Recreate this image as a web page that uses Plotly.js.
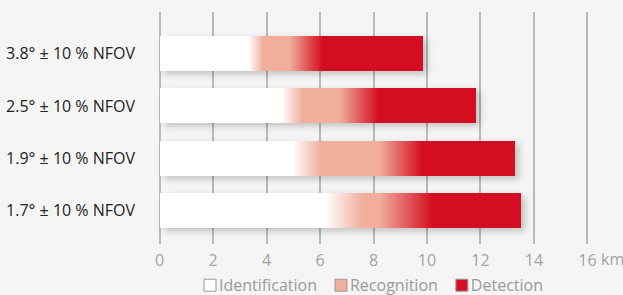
<!DOCTYPE html>
<html>
<head>
<meta charset="utf-8">
<script src="https://cdn.plot.ly/plotly-3.0.1.min.js"></script>
<style>
html,body{margin:0;padding:0;background:#f5f5f5;}
#chart{width:623px;height:295px;}
</style>
</head>
<body>
<div id="chart"></div>
<script>
// ---- data (km) ----
const categories = ['3.8° ± 10 % NFOV', '2.5° ± 10 % NFOV', '1.9° ± 10 % NFOV', '1.7° ± 10 % NFOV'];
const identification = [3.6, 4.95, 5.5, 6.9];      // identification range
const recognition    = [5.47, 7.45, 9.0, 9.2];     // recognition range
const detection      = [9.85, 11.84, 13.3, 13.53]; // detection range
const tickValues = [0, 2, 4, 6, 8, 10, 12, 14, 16];
const tickLabels = ['0', '2', '4', '6', '8', '10', '12', '14', '16'];
const unitLabel = 'km';
const seriesNames = ['Identification', 'Recognition', 'Detection'];

// ---- style ----
const fadeA = [0.56, 0.8, 1.06, 1.4];   // width of white->salmon blend (km)
const fadeB = [1.2, 1.43, 1.57, 1.96];  // width of salmon->red blend (km)
const colWhite = '#ffffff', colSalmon = '#f0ae9b', colRed = '#d51022';
const font = '"Open Sans", "Noto Sans", sans-serif';

const recogLen = recognition.map((v, i) => v - identification[i]);
const detLen = detection.map((v, i) => v - recognition[i]);

function barTrace(name, x, color) {
  return {
    type: 'bar', orientation: 'h', name: name,
    y: categories, x: x,
    marker: {color: color, line: {width: 0}},
    hoverinfo: 'skip'
  };
}

const data = [
  barTrace(seriesNames[0], identification, colWhite),
  barTrace(seriesNames[1], recogLen, colSalmon),
  barTrace(seriesNames[2], detLen, colRed)
];

const layout = {
  width: 623, height: 295,
  margin: {l: 158.4, r: 34.4, t: 12, b: 51, pad: 0, autoexpand: false},
  paper_bgcolor: '#f5f5f5', plot_bgcolor: '#f5f5f5',
  barmode: 'stack', bargap: 0.327,
  font: {family: font, size: 16, color: '#999999'},
  showlegend: true,
  legend: {
    orientation: 'h', x: 0.5, xanchor: 'center', xref: 'paper',
    y: -0.178, yanchor: 'middle',
    font: {family: font, size: 16, color: '#9a9a9a'},
    bgcolor: 'rgba(0,0,0,0)', itemwidth: 30, traceorder: 'normal'
  },
  xaxis: {
    range: [-0.06, 16.06], fixedrange: true,
    tickmode: 'array', tickvals: tickValues, ticktext: tickLabels,
    showgrid: true, gridcolor: '#b9b9b9', gridwidth: 2,
    zeroline: false, showline: false, ticks: '',
    ticklabelstandoff: 5,
    tickfont: {family: font, size: 16, color: '#a3a3a3'}
  },
  yaxis: {
    type: 'category', categoryorder: 'array', categoryarray: categories,
    range: [3.644, -0.798], fixedrange: true,
    showgrid: false, zeroline: false, showline: false, ticks: '',
    ticklabelstandoff: 22,
    tickfont: {family: font, size: 16, color: '#222222'}
  },
  annotations: [{
    xref: 'x', yref: 'paper', x: tickValues[tickValues.length - 1], y: 0,
    yanchor: 'middle', xanchor: 'left',
    xshift: 12, yshift: -15,
    text: unitLabel, showarrow: false,
    font: {family: font, size: 16, color: '#a3a3a3'}
  }]
};

Plotly.newPlot('chart', data, layout, {staticPlot: true, displayModeBar: false}).then(gd => {
  const svgNS = 'http://www.w3.org/2000/svg';
  const xa = gd._fullLayout.xaxis;
  const defs = gd.querySelector('svg.main-svg defs');

  // drop shadow filter
  const filt = document.createElementNS(svgNS, 'filter');
  filt.setAttribute('id', 'barShadow');
  filt.setAttribute('x', '-10%'); filt.setAttribute('y', '-20%');
  filt.setAttribute('width', '130%'); filt.setAttribute('height', '150%');
  const ds = document.createElementNS(svgNS, 'feDropShadow');
  ds.setAttribute('dx', '4'); ds.setAttribute('dy', '3');
  ds.setAttribute('stdDeviation', '3.5');
  ds.setAttribute('flood-color', '#000'); ds.setAttribute('flood-opacity', '0.22');
  filt.appendChild(ds);
  defs.appendChild(filt);

  // gradients, one per category, in plot pixel space
  categories.forEach((c, i) => {
    const g = document.createElementNS(svgNS, 'linearGradient');
    g.setAttribute('id', 'grad' + i);
    g.setAttribute('gradientUnits', 'userSpaceOnUse');
    const x0 = xa.l2p(0), x1 = xa.l2p(detection[i]);
    g.setAttribute('x1', x0); g.setAttribute('x2', x1);
    g.setAttribute('y1', 0); g.setAttribute('y2', 0);
    const tot = detection[i];
    const stops = [
      [0, colWhite],
      [(identification[i] - fadeA[i] / 2) / tot, colWhite],
      [(identification[i] + fadeA[i] / 2) / tot, colSalmon],
      [(recognition[i] - fadeB[i] / 2) / tot, colSalmon],
      [(recognition[i] + fadeB[i] / 2) / tot, colRed],
      [1, colRed]
    ];
    stops.forEach(([o, col]) => {
      const s = document.createElementNS(svgNS, 'stop');
      s.setAttribute('offset', Math.max(0, Math.min(1, o)));
      s.setAttribute('stop-color', col);
      g.appendChild(s);
    });
    defs.appendChild(g);
  });

  const barlayer = gd.querySelector('.barlayer');
  if (barlayer) barlayer.setAttribute('filter', 'url(#barShadow)');
  gd.querySelectorAll('.barlayer .trace').forEach(tr => {
    tr.querySelectorAll('.point').forEach((pt, j) => {
      const p = pt.querySelector('path');
      if (p) p.style.fill = 'url(#grad' + j + ')';
    });
  });

  // legend: thin grey outline on swatches, compact swatch/text spacing, centred under plot
  gd.querySelectorAll('.legend [clip-path]').forEach(el => el.removeAttribute('clip-path'));
  const items = Array.from(gd.querySelectorAll('.legend .traces'));
  const swatchGap = 3, itemGap = 18;
  const infos = items.map(it => {
    const sw = it.querySelector('.legendpoints path');
    if (sw) { sw.style.stroke = '#9a9a9a'; sw.style.strokeWidth = '1px'; }
    const sb = sw.getBoundingClientRect();
    const tx = it.querySelector('.legendtext');
    const tb = tx.getBoundingClientRect();
    const shift = (sb.right + swatchGap) - tb.left;
    tx.setAttribute('x', parseFloat(tx.getAttribute('x') || 0) + shift);
    return {it, swLeft: sb.left, width: (tb.right + shift) - sb.left};
  });
  const total = infos.reduce((a, b) => a + b.width, 0) + itemGap * (infos.length - 1);
  const centre = gd._fullLayout._size.l + gd._fullLayout._size.w / 2;
  let cur = centre - total / 2;
  infos.forEach(inf => {
    const tr = inf.it.getAttribute('transform') || 'translate(0,0)';
    const m = tr.match(/translate\(([-\d.e]+)[ ,]*([-\d.e]*)\)/);
    const tx0 = m ? parseFloat(m[1]) : 0, ty0 = m && m[2] ? parseFloat(m[2]) : 0;
    const dx = cur - inf.swLeft;
    inf.it.setAttribute('transform', 'translate(' + (tx0 + dx) + ',' + ty0 + ')');
    cur += inf.width + itemGap;
  });
});
</script>
</body>
</html>
